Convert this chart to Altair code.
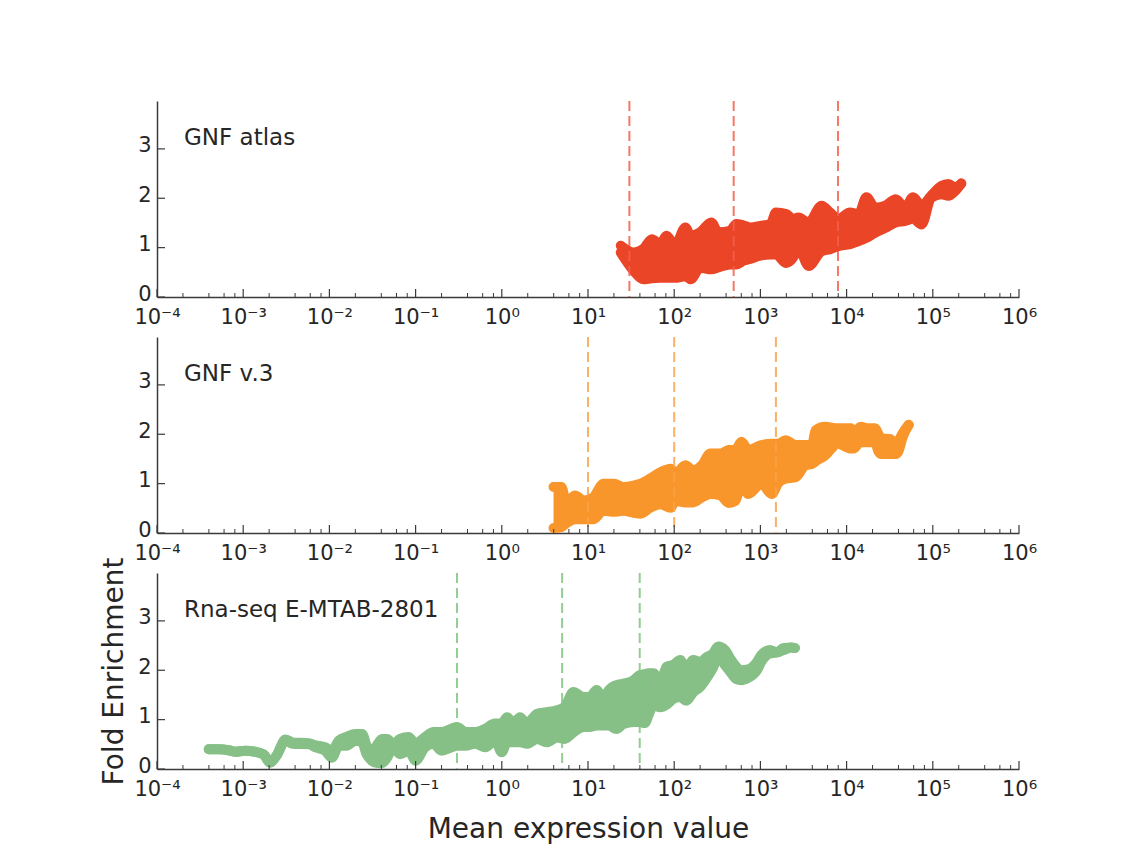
import altair as alt
import pandas as pd

# ---------------- data ----------------
# x positions are stored as log10(mean expression value)
red_lx = [1.38, 1.53, 1.64, 1.74, 1.84, 1.91, 2.01, 2.13, 2.19, 2.30,
          2.43, 2.51, 2.65, 2.72, 2.80, 2.88, 3.00, 3.12, 3.18, 3.30,
          3.38, 3.44, 3.56, 3.71, 3.81, 3.90, 4.04, 4.14, 4.23, 4.33,
          4.45, 4.57, 4.68, 4.77, 4.87, 4.98, 5.10, 5.18, 5.26, 5.33]
red_hi = [1.04, 0.90, 0.97, 1.17, 1.07, 1.24, 1.04, 1.41, 1.24, 1.31,
          1.51, 1.31, 1.34, 1.48, 1.45, 1.41, 1.44, 1.48, 1.71, 1.68,
          1.58, 1.61, 1.51, 1.85, 1.71, 1.58, 1.71, 1.68, 2.02, 1.81,
          1.85, 1.98, 1.81, 2.02, 1.85, 2.05, 2.25, 2.29, 2.22, 2.30]
red_lo = [0.90, 0.53, 0.36, 0.38, 0.39, 0.39, 0.39, 0.42, 0.36, 0.59,
          0.56, 0.60, 0.66, 0.66, 0.73, 0.77, 0.84, 0.86, 0.86, 0.69,
          0.80, 1.00, 0.63, 0.93, 0.97, 1.03, 1.07, 1.13, 1.20, 1.30,
          1.40, 1.51, 1.54, 1.59, 1.47, 2.01, 2.08, 2.05, 2.15, 2.30]
red_dash = [1.48, 2.69, 3.90]

org_lx = [0.60, 0.69, 0.75, 0.85, 0.95, 1.06, 1.18, 1.30, 1.41, 1.53,
          1.61, 1.72, 1.84, 1.96, 2.01, 2.13, 2.22, 2.32, 2.42, 2.54,
          2.63, 2.71, 2.78, 2.86, 3.01, 3.13, 3.21, 3.29, 3.41, 3.52,
          3.60, 3.64, 3.75, 3.90, 4.05, 4.08, 4.16, 4.25, 4.33, 4.37,
          4.40, 4.51, 4.57, 4.60, 4.65, 4.72]
org_hi = [0.93, 0.93, 0.62, 0.76, 0.66, 0.72, 1.00, 1.00, 0.93, 0.96,
          1.00, 1.10, 1.23, 1.30, 1.20, 1.37, 1.27, 1.37, 1.61, 1.61,
          1.68, 1.68, 1.85, 1.68, 1.78, 1.81, 1.81, 1.88, 1.78, 1.78,
          1.78, 2.08, 2.15, 2.12, 2.12, 1.98, 2.15, 2.12, 2.12, 2.00,
          1.92, 1.90, 1.74, 1.85, 2.02, 2.19]
org_lo = [0.10, 0.12, 0.20, 0.28, 0.28, 0.28, 0.45, 0.43, 0.45, 0.41,
          0.39, 0.51, 0.58, 0.51, 0.65, 0.62, 0.62, 0.72, 0.79, 0.76,
          0.61, 0.65, 1.00, 0.79, 1.00, 0.79, 1.02, 1.10, 1.13, 1.37,
          1.40, 1.45, 1.57, 1.81, 1.71, 1.71, 1.84, 1.84, 1.84, 1.65,
          1.60, 1.60, 1.60, 1.65, 1.94, 2.19]
org_dash = [1.00, 2.00, 3.18]

grn_lx = [-3.40, -3.28, -3.17, -3.09, -2.98, -2.86, -2.76, -2.69, -2.61, -2.51,
          -2.43, -2.24, -2.16, -2.05, -1.97, -1.89, -1.80, -1.70, -1.62, -1.57,
          -1.51, -1.45, -1.39, -1.33, -1.26, -1.18, -1.08, -1.00, -0.89, -0.79,
          -0.70, -0.58, -0.52, -0.42, -0.31, -0.19, -0.08, 0.00, 0.06, 0.14,
          0.21, 0.29, 0.41, 0.52, 0.64, 0.73, 0.83, 0.95, 1.02, 1.10,
          1.18, 1.24, 1.33, 1.41, 1.53, 1.60, 1.66, 1.70, 1.76, 1.84,
          1.91, 1.99, 2.07, 2.14, 2.22, 2.30, 2.38, 2.45, 2.51, 2.59,
          2.65, 2.72, 2.78, 2.86, 2.96, 3.01, 3.11, 3.19, 3.27, 3.36,
          3.40]
grn_hi = [0.40, 0.40, 0.38, 0.35, 0.37, 0.35, 0.29, 0.13, 0.28, 0.60,
          0.54, 0.52, 0.48, 0.44, 0.37, 0.58, 0.65, 0.71, 0.71, 0.48,
          0.34, 0.48, 0.61, 0.61, 0.51, 0.61, 0.65, 0.51, 0.65, 0.75,
          0.75, 0.82, 0.85, 0.75, 0.75, 0.82, 0.92, 0.92, 1.05, 0.92,
          1.05, 0.92, 1.12, 1.15, 1.19, 1.26, 1.56, 1.46, 1.46, 1.60,
          1.39, 1.60, 1.70, 1.73, 1.80, 1.90, 1.92, 1.94, 1.94, 1.73,
          2.07, 2.11, 2.21, 2.00, 2.21, 2.17, 2.27, 2.34, 2.48, 2.41,
          2.24, 2.07, 2.00, 2.02, 2.17, 2.31, 2.41, 2.36, 2.45, 2.46,
          2.45]
grn_lo = [0.40, 0.40, 0.38, 0.35, 0.37, 0.35, 0.29, 0.13, 0.28, 0.58,
          0.51, 0.50, 0.44, 0.37, 0.23, 0.47, 0.47, 0.57, 0.54, 0.30,
          0.17, 0.12, 0.12, 0.23, 0.44, 0.30, 0.37, 0.17, 0.44, 0.51,
          0.37, 0.44, 0.47, 0.47, 0.51, 0.44, 0.58, 0.34, 0.54, 0.54,
          0.54, 0.51, 0.61, 0.54, 0.64, 0.61, 0.74, 0.85, 0.85, 0.88,
          0.88, 0.88, 0.81, 0.91, 0.95, 0.95, 0.93, 1.08, 1.29, 1.25,
          1.30, 1.42, 1.46, 1.38, 1.55, 1.66, 1.85, 2.05, 2.27, 2.10,
          1.97, 1.82, 1.80, 1.85, 2.00, 2.17, 2.34, 2.36, 2.41, 2.46,
          2.45]
grn_dash = [-0.52, 0.70, 1.60]

labels = ["GNF atlas", "GNF v.3", "Rna-seq E-MTAB-2801"]
x_title = "Mean expression value"
y_title = "Fold Enrichment"

major_exp = [-4, -3, -2, -1, 0, 1, 2, 3, 4, 5, 6]
minor_mult = [2, 4, 6, 8]
y_ticks = [0, 1, 2, 3]

# ---------------- styling ----------------
FONT = "DejaVu Sans"
TXT = "#262626"
AXC = "#3a3a3a"
W, H = 862, 196
XDOM = [1e-4, 1e6]
YDOM = [0, 3.97]

MAJOR = [10.0 ** e for e in major_exp]
MINOR = [m * 10.0 ** e for e in major_exp[:-1] for m in minor_mult]

LBL = ("'10' + (datum.value < 0.5 ? '\u207b' : '') + "
       "substring('\u2070\u00b9\u00b2\u00b3\u2074\u2075\u2076\u2077\u2078\u2079', "
       "abs(round(log(datum.value)/LN10)), abs(round(log(datum.value)/LN10)) + 1)")

xscale = alt.Scale(type="log", domain=XDOM, nice=False)
yscale = alt.Scale(domain=YDOM, nice=False, zero=False)


def make_axes(show_titles):
    xa = alt.Axis(values=MAJOR, labelExpr=LBL, ticks=False, grid=False,
                  labelFlush=False, labelOverlap=False, labelFontSize=21,
                  labelFont=FONT, labelColor=TXT, labelPadding=9,
                  domainColor=AXC, domainWidth=1.5,
                  title=x_title if show_titles else None,
                  titleFont=FONT, titleFontSize=28, titleFontWeight="normal",
                  titleColor=TXT, titlePadding=16)
    ya = alt.Axis(values=y_ticks, ticks=False, grid=False, labelFontSize=21,
                  labelFont=FONT, labelColor=TXT, labelPadding=6,
                  labelOffset=-3,
                  domainColor=AXC, domainWidth=1.5,
                  title=y_title if show_titles else None,
                  titleFont=FONT, titleFontSize=28, titleFontWeight="normal",
                  titleColor=TXT, titlePadding=9)
    return xa, ya


def panel(lx, hi, lo, dash, color, dash_color, label, show_titles):
    xa, ya = make_axes(show_titles)
    df = pd.DataFrame({"x": [10.0 ** v for v in lx], "hi": hi, "lo": lo})
    ddf = pd.DataFrame({"d": [10.0 ** v for v in dash]})
    mjdf = pd.DataFrame({"t": MAJOR})
    mndf = pd.DataFrame({"t": MINOR})
    ydf = pd.DataFrame({"v": y_ticks})
    ldf = pd.DataFrame({"label": [label]})

    X = lambda f: alt.X(f, type="quantitative", scale=xscale, axis=xa)
    Y = lambda f: alt.Y(f, type="quantitative", scale=yscale, axis=ya)

    area = alt.Chart(df).mark_area(color=color, opacity=1, interpolate="monotone").encode(
        x=X("x"), y=Y("lo"), y2="hi")
    line_hi = alt.Chart(df).mark_line(color=color, strokeWidth=10, interpolate="monotone",
                                      strokeCap="round", strokeJoin="round").encode(
        x=X("x"), y=Y("hi"))
    line_lo = alt.Chart(df).mark_line(color=color, strokeWidth=10, interpolate="monotone",
                                      strokeCap="round", strokeJoin="round").encode(
        x=X("x"), y=Y("lo"))
    dashes = alt.Chart(ddf).mark_rule(color=dash_color, strokeWidth=2,
                                      strokeDash=[10, 5], opacity=0.85).encode(
        x=X("d"))
    mj = alt.Chart(mjdf).mark_rule(color=AXC, strokeWidth=1.2).encode(
        x=X("t"), y=alt.value(H), y2=alt.value(H - 8))
    mn = alt.Chart(mndf).mark_rule(color=AXC, strokeWidth=1).encode(
        x=X("t"), y=alt.value(H), y2=alt.value(H - 4))
    yt = alt.Chart(ydf).mark_rule(color=AXC, strokeWidth=1.2).encode(
        y=Y("v"), x=alt.value(0), x2=alt.value(8))
    txt = alt.Chart(ldf).mark_text(align="left", baseline="middle", font=FONT,
                                   fontSize=23, color=TXT).encode(
        x=alt.value(27), y=alt.value(37), text="label:N")
    return alt.layer(area, line_hi, line_lo, dashes, mj, mn, yt, txt).properties(
        width=W, height=H)


p1 = panel(red_lx, red_hi, red_lo, red_dash, "#EB4528", "#F2604E", labels[0], False)
p2 = panel(org_lx, org_hi, org_lo, org_dash, "#F8962B", "#F9A24A", labels[1], False)
p3 = panel(grn_lx, grn_hi, grn_lo, grn_dash, "#87C087", "#7FC47F", labels[2], True)

chart = alt.vconcat(p1, p2, p3, spacing=40, bounds="flush").properties(
    padding={"left": 100, "top": 100, "right": 5, "bottom": 5},
    background="white",
).configure(font=FONT).configure_view(stroke=None, strokeWidth=0)

chart.save("out.html", embed_options={"renderer": "svg", "actions": False})
